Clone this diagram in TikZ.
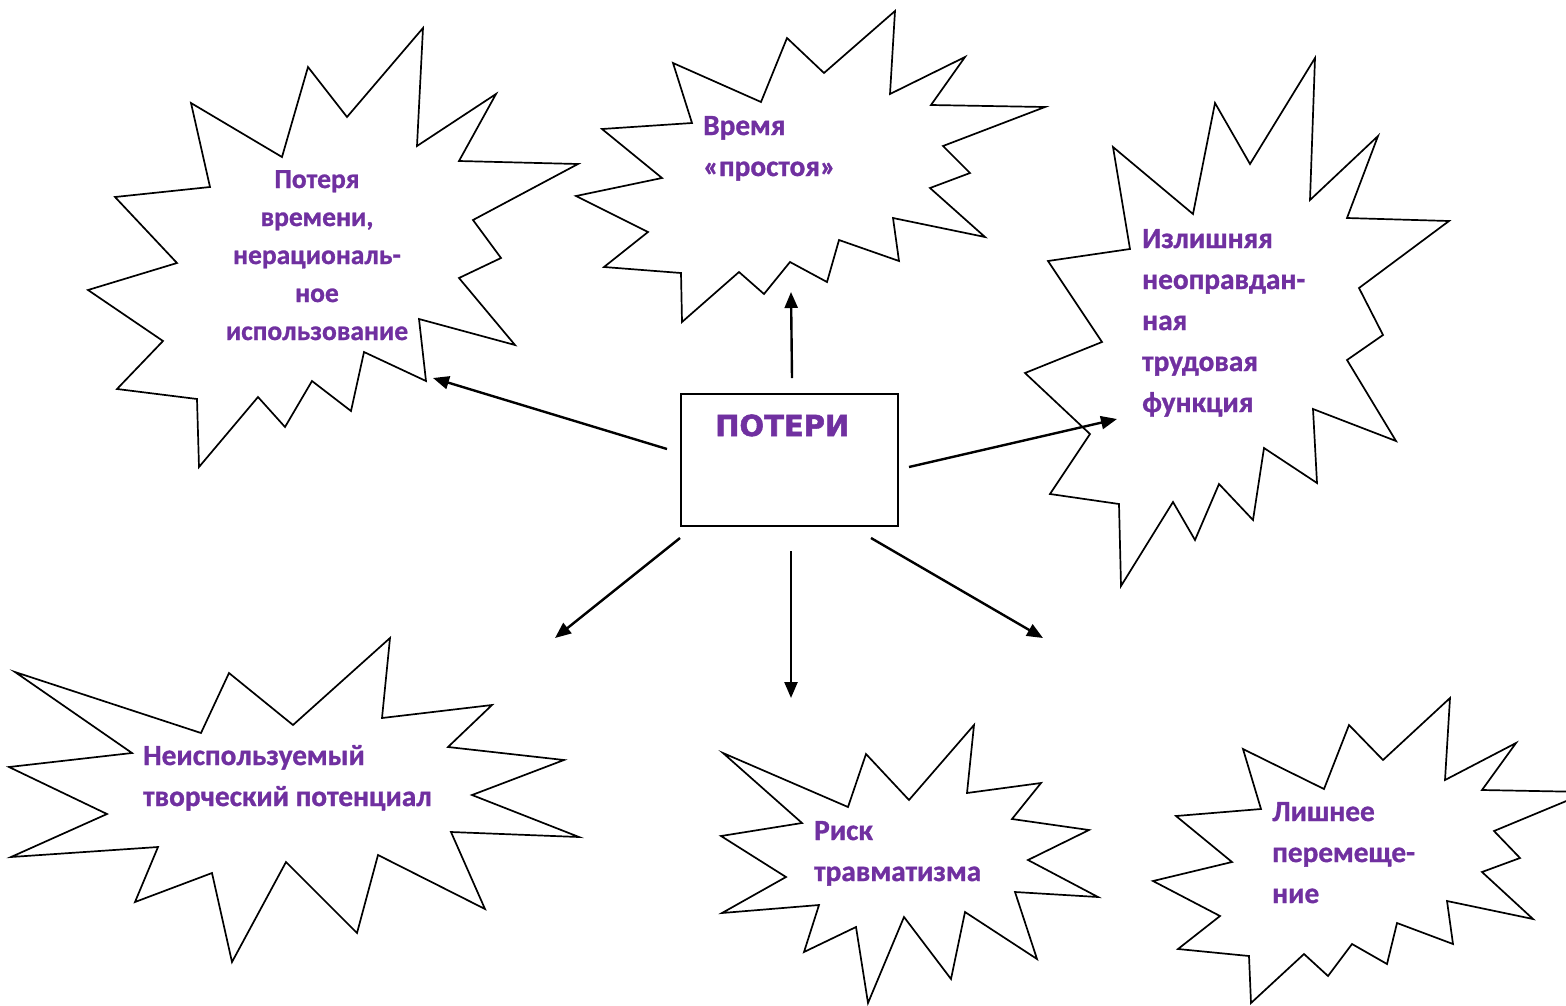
\documentclass[tikz,border=0pt]{standalone}
\usepackage{fontspec}
\setmainfont{Carlito}[BoldFeatures={FakeBold=1.0}]
\newfontfamily\boxfont{DejaVu Sans}[BoldFeatures={FakeBold=1.8}]
\usetikzlibrary{arrows.meta}
\definecolor{tpurple}{HTML}{7030A0}
\tikzset{
  burst/.style={draw=black, line width=1.7pt, line join=miter, fill=white},
  btext/.style={text=tpurple, font=\bfseries\fontsize{29.3}{41}\selectfont, inner sep=0pt, align=left, anchor=base west},
  conn/.style={line width=2.4pt, -{Triangle[length=16pt,width=13pt]}},
  lossbox/.style={draw=black, line width=1.9pt, fill=white, minimum width=217pt, minimum height=132pt, anchor=north west, inner sep=0pt},
}
\begin{document}
\begin{tikzpicture}[x=1pt,y=-1pt]
\clip (0,0) rectangle (1566,1005);
\fill[white] (0,0) rectangle (1566,1005);
% burst 1
\draw[burst] (423,28) -- (417,146) -- (496,94) -- (459,161) -- (578,164) -- (473,220) -- (501,258) -- (459,278) -- (515,345) -- (419,319) -- (426,381) -- (364,352) -- (351,411) -- (312,381) -- (285,427) -- (258,397) -- (199,467) -- (197,399) -- (117,389) -- (163,341) -- (88,290) -- (177,263) -- (115,197) -- (210,187) -- (191,103) -- (282,157) -- (308,67) -- (347,117) -- cycle;
% burst 2
\draw[burst] (895,11) -- (890,94) -- (965,57) -- (931,105) -- (1045,107) -- (943,146) -- (970,173) -- (930,188) -- (985,237) -- (893,218) -- (899,261) -- (839,240) -- (827,282) -- (790,262) -- (764,294) -- (739,272) -- (682,322) -- (681,273) -- (604,267) -- (648,232) -- (576,196) -- (662,178) -- (602,129) -- (692,123) -- (673,63) -- (761,102) -- (787,38) -- (824,73) -- cycle;
% burst 3
\draw[burst] (1315,58) -- (1310,200) -- (1378,136) -- (1347,218) -- (1449,221) -- (1359,288) -- (1383,335) -- (1347,360) -- (1396,441) -- (1313,409) -- (1317,483) -- (1264,448) -- (1253,520) -- (1219,484) -- (1195,540) -- (1173,502) -- (1121,586) -- (1119,504) -- (1050,494) -- (1090,434) -- (1025,373) -- (1102,342) -- (1048,261) -- (1130,249) -- (1113,147) -- (1193,214) -- (1215,103) -- (1250,164) -- cycle;
% burst 4
\draw[burst] (15,672) -- (201,733) -- (229,673) -- (293,725) -- (390,638) -- (382,718) -- (492,705) -- (448,747) -- (564,760) -- (472,795) -- (579,837) -- (451,832) -- (485,909) -- (378,855) -- (357,933) -- (286,862) -- (232,962) -- (212,873) -- (135,902) -- (158,847) -- (11,857) -- (107,814) -- (9,767) -- (132,753) -- cycle;
% burst 5
\draw[burst] (723,753) -- (848,807) -- (866,754) -- (909,800) -- (974,725) -- (967,793) -- (1041,783) -- (1012,819) -- (1089,830) -- (1028,860) -- (1098,897) -- (1015,892) -- (1037,959) -- (965,912) -- (951,979) -- (904,917) -- (868,1003) -- (856,927) -- (804,952) -- (819,905) -- (722,913) -- (786,877) -- (721,836) -- (802,823) -- cycle;
% burst 6
\draw[burst] (1243,749) -- (1324,789) -- (1349,725) -- (1383,760) -- (1450,698) -- (1445,780) -- (1516,743) -- (1482,790) -- (1588,792) -- (1494,831) -- (1520,858) -- (1482,872) -- (1533,919) -- (1447,901) -- (1453,944) -- (1397,923) -- (1387,964) -- (1352,944) -- (1328,976) -- (1304,954) -- (1251,1003) -- (1249,956) -- (1178,949) -- (1220,916) -- (1153,881) -- (1232,862) -- (1176,816) -- (1261,809) -- cycle;

% texts (anchor = baseline of the last line)
\node[btext, align=center, anchor=base, font=\bfseries\fontsize{27.5}{38}\selectfont] (t1) at (317,340) {Потеря\\времени,\\нерациональ-\\ное\\использование};
\node[btext] (t2) at (703,176) {Время\\«простоя»};
\node[btext] (t3) at (1142,412) {Излишняя\\неоправдан-\\ная\\трудовая\\функция};
\node[btext] (t4) at (143,806) {Неиспользуемый\\творческий потенциал};
\node[btext] (t5) at (814,881) {Риск\\травматизма};
\node[btext] (t6) at (1272,903) {Лишнее\\перемеще-\\ние};

% central box
\node[lossbox] (box) at (680,393) {};
\node[text=tpurple, font=\boxfont\bfseries\fontsize{29}{34}\selectfont, anchor=base west, inner sep=0pt] (boxlabel) at (715,436) {ПОТЕРИ};

% connectors
\coordinate (a1s) at (667,449); \coordinate (a1e) at (433,378);
\coordinate (a2s) at (792,378); \coordinate (a2e) at (791,292);
\coordinate (a3s) at (909,467); \coordinate (a3e) at (1117,419);
\coordinate (a4s) at (680,538); \coordinate (a4e) at (555,638);
\coordinate (a5s) at (791,551); \coordinate (a5e) at (791,698);
\coordinate (a6s) at (871,538); \coordinate (a6e) at (1043,638);
\draw[conn] (a1s) -- (a1e);
\draw[conn] (a2s) -- (a2e);
\draw[conn] (a3s) -- (a3e);
\draw[conn] (a4s) -- (a4e);
\draw[conn] (a5s) -- (a5e);
\draw[conn] (a6s) -- (a6e);
\end{tikzpicture}
\end{document}
